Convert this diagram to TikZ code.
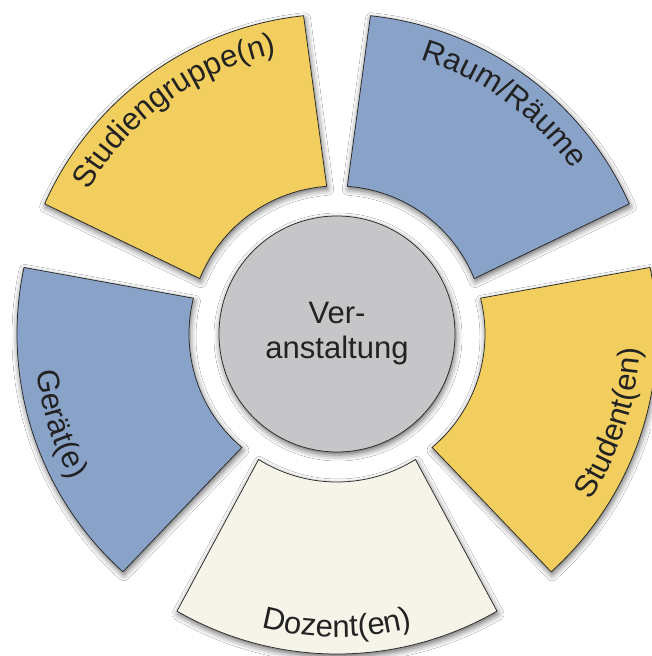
\documentclass[tikz,border=0pt]{standalone}
\usepackage{fontspec}
\setmainfont{Liberation Sans}
\usetikzlibrary{calc,decorations.text,shadows.blur}
\definecolor{secyellow}{HTML}{F2CE5E}
\definecolor{secblue}{HTML}{89A2C8}
\definecolor{seccream}{HTML}{F6F4E8}
\definecolor{centergrey}{HTML}{C6C6C8}
\definecolor{outline}{HTML}{2A2A2A}
\definecolor{txt}{HTML}{222222}
\tikzset{
  softshadow/.style={blur shadow={shadow xshift=1pt, shadow yshift=-3pt, shadow blur radius=6pt, shadow opacity=60}},
  sector/.style={draw=outline, line width=0.75pt, line join=miter, softshadow},
  toplabel/.style={decorate, decoration={text along path, text align=center,
     text={|\fontsize{31pt}{31pt}\selectfont\color{txt}|#1}}},
}
\newcommand{\sectorshape}[3]{% angle, fill, name
  \path[sector, fill=#2] ($(C)+(#1-32:148pt)$) coordinate (#3a) -- ($(C)+(#1-30:320pt)$) coordinate (#3b)
    arc[start angle=#1-30, end angle=#1+30, radius=320pt] coordinate (#3c)
    -- ($(C)+(#1+32:148pt)$) coordinate (#3d)
    arc[start angle=#1+32, end angle=#1-32, radius=148pt] -- cycle;
}
\begin{document}
\begin{tikzpicture}
\useasboundingbox (0pt,0pt) rectangle (651pt,656pt);
\fill[white] (0pt,0pt) rectangle (651pt,656pt);
\coordinate (C) at (337pt,322pt);
% sectors
\sectorshape{126}{secyellow}{sg}
\sectorshape{54}{secblue}{rm}
\sectorshape{-18}{secyellow}{st}
\sectorshape{270}{seccream}{dz}
\sectorshape{198}{secblue}{gr}
% centre
\node[circle, minimum size=236pt, inner sep=0pt, fill=centergrey, draw=outline,
      line width=0.75pt, softshadow, align=center, text=txt,
      font=\fontsize{31pt}{35pt}\selectfont] (center) at (C) {Ver-\\anstaltung};
% labels, upper half: clockwise, tops outward
\path[toplabel={Studiengruppe(n)}] ($(C)+(156:287pt)$) arc[start angle=156, end angle=96, radius=287pt];
\path[toplabel={Raum/Räume}] ($(C)+(84:287pt)$) arc[start angle=84, end angle=24, radius=287pt];
% labels, lower half: counter-clockwise, tops toward centre
\path[toplabel={Student(en)}] ($(C)+(-48:303pt)$) arc[start angle=-48, end angle=12, radius=303pt];
\path[toplabel={Dozent(en)}] ($(C)+(240:303pt)$) arc[start angle=240, end angle=300, radius=303pt];
\path[toplabel={Gerät(e)}] ($(C)+(168:303pt)$) arc[start angle=168, end angle=228, radius=303pt];
\end{tikzpicture}
\end{document}
